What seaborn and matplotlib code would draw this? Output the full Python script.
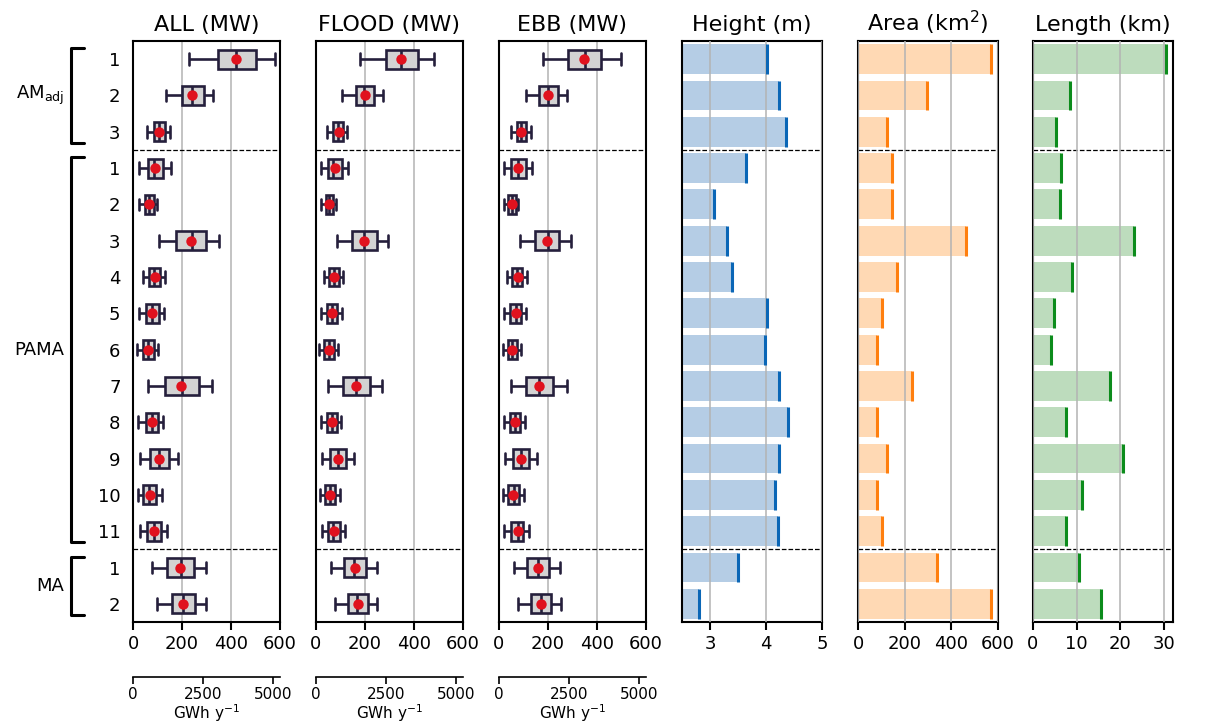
import numpy as np
import pandas as pd
import matplotlib
matplotlib.use("Agg")
import matplotlib.pyplot as plt
import matplotlib.transforms as mtransforms
import seaborn as sns

# ── data ──────────────────────────────────────────────────────
row_labels = ['1', '2', '3',
              '1', '2', '3', '4', '5', '6', '7', '8', '9', '10', '11',
              '1', '2']
groups = ['AM$_{\\mathrm{adj}}$', 'PAMA', 'MA']
group_first = [0, 3, 14]
group_last = [2, 13, 15]

# box stats in MW: whisker low, q1, median, q3, whisker high, mean
all_lo = [229, 134, 56, 26, 23, 105, 40, 26, 18, 60, 22, 30, 19, 27, 78, 97]
all_q1 = [345, 199, 87, 60, 49, 177, 65, 53, 40, 130, 52, 68, 42, 59, 138, 160]
all_med = [420, 241, 108, 86, 65, 240, 86, 76, 60, 199, 76, 106, 67, 86, 194, 205]
all_q3 = [503, 288, 130, 124, 86, 298, 112, 105, 85, 269, 102, 147, 93, 116, 247, 254]
all_hi = [578, 326, 151, 154, 99, 351, 131, 127, 104, 323, 123, 185, 117, 139, 296, 296]
all_mean = [419, 240, 108, 91, 65, 235, 90, 79, 63, 197, 76, 108, 68, 86, 190, 205]

flood_lo = [180, 107, 46, 22, 22, 84, 34, 22, 14, 50, 21, 26, 16, 24, 61, 79]
flood_q1 = [284, 162, 71, 48, 39, 147, 54, 43, 33, 109, 43, 57, 37, 50, 113, 132]
flood_med = [346, 197, 90, 71, 54, 197, 75, 64, 52, 162, 64, 90, 57, 71, 156, 168]
flood_q3 = [417, 236, 110, 106, 71, 248, 95, 87, 72, 220, 87, 124, 79, 98, 205, 213]
flood_hi = [481, 274, 128, 129, 83, 295, 111, 107, 90, 269, 103, 155, 99, 118, 248, 251]
flood_mean = [345, 200, 92, 76, 54, 196, 75, 67, 53, 162, 64, 91, 58, 73, 158, 170]

ebb_lo = [180, 109, 49, 22, 22, 84, 33, 22, 15, 49, 19, 26, 15, 22, 60, 79]
ebb_q1 = [281, 163, 73, 49, 37, 149, 54, 46, 35, 109, 44, 57, 37, 49, 115, 130]
ebb_med = [351, 200, 90, 79, 53, 200, 75, 68, 54, 164, 65, 90, 60, 76, 160, 171]
ebb_q3 = [418, 239, 111, 109, 68, 247, 95, 90, 73, 221, 87, 123, 80, 98, 206, 212]
ebb_hi = [497, 278, 130, 133, 79, 292, 113, 110, 91, 276, 106, 156, 103, 122, 250, 252]
ebb_mean = [347, 200, 91, 79, 53, 198, 76, 68, 54, 164, 65, 90, 59, 76, 160, 172]

height_m = [4.01, 4.23, 4.35, 3.64, 3.08, 3.31, 3.39, 4.02, 3.98, 4.24, 4.39, 4.24, 4.16, 4.21, 3.50, 2.80]
area_km2 = [571, 296, 126, 146, 146, 464, 169, 104, 83, 231, 83, 126, 83, 104, 337, 570]
length_km = [30.3, 8.4, 5.3, 6.3, 6.2, 23.1, 8.9, 4.8, 4.1, 17.5, 7.6, 20.6, 11.1, 7.5, 10.6, 15.6]

# ── style ─────────────────────────────────────────────────────
sns.set_theme(style="ticks", rc={
    "axes.edgecolor": "black", "axes.linewidth": 1.5,
    "xtick.major.width": 1.5, "xtick.major.size": 6,
    "xtick.color": "black", "ytick.color": "black", "text.color": "black",
    "axes.labelcolor": "black",
})
plt.rcParams['font.family'] = ['DejaVu Sans']

NAVY = '#251f3c'
RED = '#e0121e'
GRID = '#b3b3b3'
row_ids = [f"r{i}" for i in range(len(row_labels))]
pos = np.arange(len(row_labels))

fig = plt.figure(figsize=(12.07, 7.24), dpi=100)
bottom, height = 0.1409, 0.8025
box_lefts = [0.1102, 0.2618, 0.4134]
bar_lefts = [0.5650, 0.7109, 0.8558]


def finish(ax, xlim, xticks, title):
    ax.set_xlim(*xlim)
    ax.set_ylim(len(row_labels) - 0.5, -0.5)
    ax.set_xticks(xticks)
    ax.set_xlabel('')
    ax.set_ylabel('')
    ax.set_title(title, fontsize=16, pad=7)
    ax.tick_params(axis='x', labelsize=13)
    ax.tick_params(axis='y', length=0)
    ax.set_yticks(pos, [])
    ax.grid(axis='x', color=GRID, lw=1.1)
    for y in (2.5, 13.5):
        ax.axhline(y, ls='--', color='black', lw=0.9, zorder=2)
    for s in ax.spines.values():
        s.set_visible(True)


box_sets = [
    ("ALL (MW)", all_lo, all_q1, all_med, all_q3, all_hi, all_mean),
    ("FLOOD (MW)", flood_lo, flood_q1, flood_med, flood_q3, flood_hi, flood_mean),
    ("EBB (MW)", ebb_lo, ebb_q1, ebb_med, ebb_q3, ebb_hi, ebb_mean),
]

for k, (title, lo, q1, med, q3, hi, mean) in enumerate(box_sets):
    ax = fig.add_axes([box_lefts[k], bottom, 0.1218, height])
    # five values per row -> quartiles land exactly on q1/med/q3, whiskers at min/max
    df = pd.DataFrame({
        'row': np.repeat(row_ids, 5),
        'value': np.column_stack([lo, q1, med, q3, hi]).ravel(),
    })
    sns.boxplot(data=df, x='value', y='row', order=row_ids, orient='h',
                whis=(0, 100), width=0.52, color='lightgray', linecolor=NAVY,
                linewidth=1.9, showfliers=False, capwidths=0.32, ax=ax)
    sns.stripplot(x=mean, y=row_ids, order=row_ids, orient='h', jitter=False,
                  color=RED, size=7.5, linewidth=0, ax=ax, zorder=6)
    finish(ax, (0, 600), [0, 200, 400, 600], title)
    ax.set_axisbelow(True)

    sec = ax.secondary_xaxis(-0.095, functions=(lambda x: x * 8.76, lambda x: x / 8.76))
    sec.set_xticks([0, 2500, 5000])
    sec.tick_params(labelsize=11, width=1.2, length=5, pad=2, colors='black')
    sec.set_xlabel('GWh y$^{-1}$', fontsize=11, labelpad=0, color='black')
    sec.spines['bottom'].set_linewidth(1.2)

    if k == 0:
        ax.set_yticks(pos, row_labels, fontsize=13)
        ax.tick_params(axis='y', pad=9)
        trans = mtransforms.blended_transform_factory(ax.transAxes, ax.transData)
        for name, a, b in zip(groups, group_first, group_last):
            y0, y1 = a - 0.3, b + 0.3
            ax.plot([-0.333, -0.422, -0.422, -0.333], [y0, y0, y1, y1],
                    color='black', lw=2.2, transform=trans, clip_on=False)
            ax.text(-0.47, (a + b) / 2, name, fontsize=13, ha='right',
                    va='center', transform=trans)

bar_sets = [
    ("Height (m)", height_m, (2.5, 5), [3, 4, 5], '#b5cde5', '#0a66b6'),
    ("Area (km$^2$)", area_km2, (0, 600), [0, 200, 400, 600], '#ffd9b4', '#ff7f0e'),
    ("Length (km)", length_km, (0, 32), [0, 10, 20, 30], '#bddcbd', '#0c8c1c'),
]

for k, (title, vals, xlim, xticks, fill, edge) in enumerate(bar_sets):
    ax = fig.add_axes([bar_lefts[k], bottom, 0.1160, height])
    sns.barplot(x=vals, y=row_ids, order=row_ids, orient='h', color=fill,
                saturation=1, width=0.82, linewidth=0, errorbar=None, ax=ax)
    ax.vlines(vals, pos - 0.41, pos + 0.41, color=edge, lw=2.2, zorder=4)
    finish(ax, xlim, xticks, title)
    ax.set_axisbelow(False)

plt.savefig('out.png', dpi=100)
